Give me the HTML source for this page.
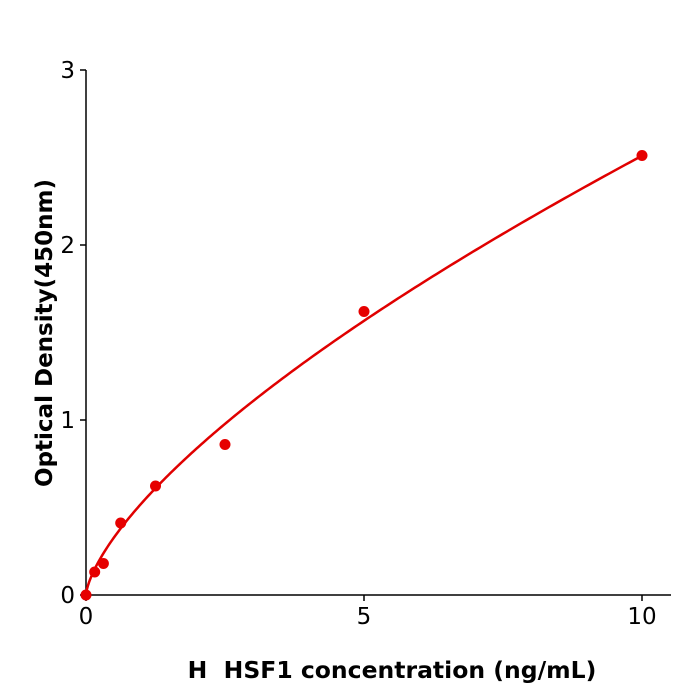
<!DOCTYPE html>
<html><head><style>
html,body{margin:0;padding:0;background:#fff;}
svg{display:block;font-family:"DejaVu Sans","Liberation Sans",sans-serif;}
</style></head><body>
<svg id="s" width="700" height="700" viewBox="0 0 700 700">
<rect width="700" height="700" fill="#fff"/>
<g stroke="#000" stroke-width="1.5" fill="none">
<line x1="86" y1="70" x2="86" y2="595"/>
<line x1="86" y1="595" x2="671" y2="595"/>
<line x1="80" y1="70" x2="86" y2="70"/>
<line x1="80" y1="245" x2="86" y2="245"/>
<line x1="80" y1="420" x2="86" y2="420"/>
<line x1="80" y1="595" x2="86" y2="595"/>
<line x1="86" y1="595" x2="86" y2="601"/>
<line x1="364" y1="595" x2="364" y2="601"/>
<line x1="642" y1="595" x2="642" y2="601"/>
</g>
<g font-size="23" fill="#000">
<text x="75" y="78" text-anchor="end">3</text>
<text x="75" y="253" text-anchor="end">2</text>
<text x="75" y="428" text-anchor="end">1</text>
<text x="75" y="603" text-anchor="end">0</text>
<text x="86" y="624" text-anchor="middle">0</text>
<text x="364" y="624" text-anchor="middle">5</text>
<text x="642" y="624" text-anchor="middle">10</text>
</g>
<text x="392" y="678" text-anchor="middle" font-size="23.5" font-weight="bold">H&#160; HSF1 concentration (ng/mL)</text>
<text transform="translate(52,333) rotate(-90)" text-anchor="middle" font-size="23" font-weight="bold">Optical Density(450nm)</text>
<path id="c" fill="none" stroke="#e00000" stroke-width="2.5"/>
<g fill="#e60000">
<circle cx="86" cy="595" r="5.5"/>
<circle cx="94.7" cy="572" r="5.5"/>
<circle cx="103.4" cy="563.5" r="5.5"/>
<circle cx="120.7" cy="523" r="5.5"/>
<circle cx="155.5" cy="486" r="5.5"/>
<circle cx="225" cy="444.5" r="5.5"/>
<circle cx="364" cy="311.5" r="5.5"/>
<circle cx="642" cy="155.5" r="5.5"/>
</g>
</svg>
<script>
var d="";for(var i=0;i<=200;i++){var x=10*Math.pow(i/200,1.5);var y=2.51*Math.pow(x/10,0.68);d+=(i?"L":"M")+(86+x*55.6).toFixed(2)+" "+(595-y*175).toFixed(2);}
document.getElementById("c").setAttribute("d",d);
</script>
</body></html>
